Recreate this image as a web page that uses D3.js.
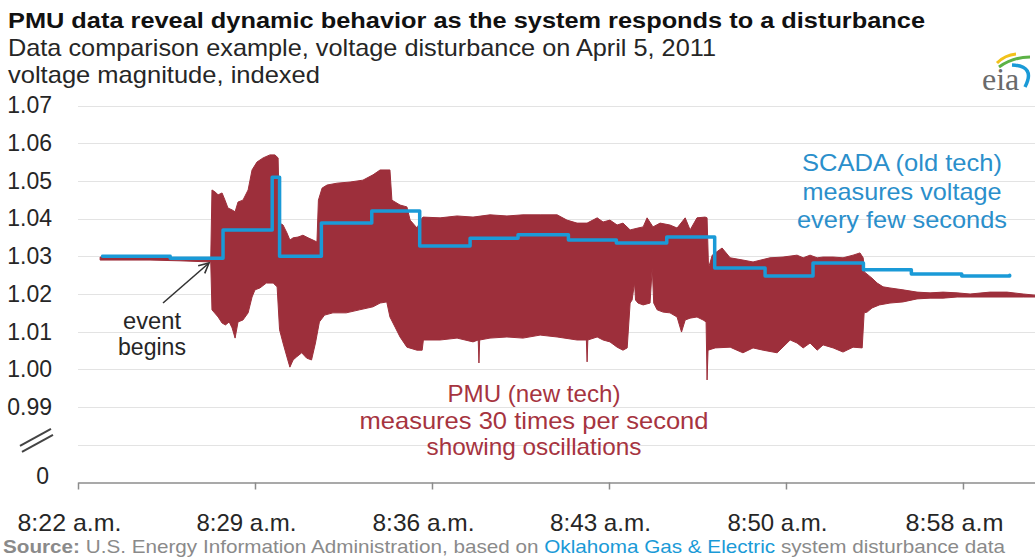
<!DOCTYPE html>
<html>
<head>
<meta charset="utf-8">
<script src="https://cdn.jsdelivr.net/npm/d3@7"></script>
<style>
  body { margin: 0; background: #fff; }
  svg { display: block; font-family: "Liberation Sans", Arial, sans-serif; }
</style>
</head>
<body>
<svg id="chart" width="1035" height="558"></svg>
<script>
// times are minutes after 8:22 a.m.
const xTickMinutes = [0, 7.2, 14.4, 21.6, 28.8, 36];
const xTickLabels = ["8:22 a.m.", "8:29 a.m.", "8:36 a.m.", "8:43 a.m.", "8:50 a.m.", "8:58 a.m"];
const yTickValues = [0.97, 0.98, 0.99, 1.0, 1.01, 1.02, 1.03, 1.04, 1.05, 1.06, 1.07];
const yTickLabels = ["0", "", "0.99", "1.00", "1.01", "1.02", "1.03", "1.04", "1.05", "1.06", "1.07"];

// SCADA readings, each held until the next one
const scadaTimes = [1.0, 3.75, 5.9, 7.9, 8.2, 9.9, 11.95, 13.9, 15.95, 17.9, 19.95,
  21.9, 23.95, 25.9, 27.95, 29.9, 31.95, 33.9, 35.95, 37.9];
const scadaValues = [1.03, 1.0295, 1.037, 1.051, 1.03, 1.0388, 1.042, 1.0327, 1.0348, 1.0357, 1.0343,
  1.0335, 1.0351, 1.0269, 1.0248, 1.0282, 1.0264, 1.0253, 1.0248, 1.025];

// PMU (30 samples/s): top and bottom of the oscillation band
const pmuHighTimes = [0.9, 2.93, 4.15, 5.4, 5.45, 5.57, 5.7, 5.86, 5.98, 6.1, 6.27, 6.39, 6.51, 6.71,
  6.92, 7.08, 7.28, 7.53, 7.81, 8.01, 8.14, 8.2, 8.34, 8.5, 8.62, 8.75, 8.95, 9.15, 9.36, 9.56, 9.72,
  9.78, 9.93, 10.13, 10.54, 11.07, 11.59, 12.0, 12.29, 12.61, 12.69, 12.77, 13.1, 13.38, 13.51, 13.79,
  14.0, 14.04, 14.73, 15.42, 16.07, 16.76, 17.45, 18.1, 18.8, 19.49, 19.89, 20.3, 20.71, 21.12, 21.36,
  21.64, 21.93, 22.17, 22.46, 22.78, 22.99, 23.15, 23.39, 23.68, 24.08, 24.37, 24.7, 24.9, 25.18,
  25.51, 25.59, 25.65, 25.8, 26.2, 26.53, 27.05, 27.46, 28.15, 28.68, 29.25, 29.5, 29.78, 30.07,
  30.31, 30.72, 31.12, 31.53, 31.81, 31.94, 32.0, 32.3, 32.51, 32.75, 33.03, 33.56, 34.13, 34.66,
  35.19, 35.76, 36.29, 37.1, 37.79, 38.45, 38.93];
const pmuHigh = [1.0298, 1.0298, 1.0296, 1.0293, 1.0476, 1.0471, 1.0463, 1.0468, 1.0449, 1.0428,
  1.0423, 1.0418, 1.0444, 1.0449, 1.0476, 1.0529, 1.055, 1.0561, 1.0569, 1.0569, 1.0561, 1.0388,
  1.0383, 1.0362, 1.0343, 1.0349, 1.0351, 1.0356, 1.0349, 1.0343, 1.0338, 1.0449, 1.0481, 1.0489,
  1.0494, 1.0497, 1.0502, 1.0516, 1.0529, 1.0529, 1.0529, 1.0449, 1.0436, 1.0431, 1.0396, 1.0375,
  1.0402, 1.0404, 1.0402, 1.0407, 1.0404, 1.041, 1.0407, 1.041, 1.041, 1.041, 1.0396, 1.0388,
  1.0388, 1.0402, 1.0391, 1.0396, 1.0383, 1.0388, 1.037, 1.0375, 1.0378, 1.0402, 1.0378, 1.0388,
  1.0383, 1.0375, 1.0402, 1.037, 1.0402, 1.0404, 1.0402, 1.0269, 1.0303, 1.0322, 1.0296, 1.029,
  1.0285, 1.0296, 1.0298, 1.0303, 1.0296, 1.0303, 1.0296, 1.0298, 1.0298, 1.0296, 1.0303, 1.0309,
  1.0296, 1.0258, 1.0242, 1.0229, 1.0219, 1.0216, 1.0211, 1.0205, 1.0203, 1.0205, 1.0203, 1.02,
  1.0205, 1.0205, 1.02, 1.0197];
const pmuLowTimes = [0.9, 2.93, 4.15, 5.4, 5.45, 5.7, 5.86, 6.0, 6.15, 6.27, 6.39, 6.51, 6.71, 6.92,
  7.08, 7.2, 7.4, 7.66, 7.94, 8.1, 8.2, 8.34, 8.5, 8.62, 8.75, 8.89, 9.1, 9.3, 9.5, 9.66, 9.82, 10.03,
  10.37, 10.91, 11.45, 12.0, 12.29, 12.56, 12.69, 12.9, 13.1, 13.38, 13.79, 14.0, 14.05, 14.73, 15.42,
  16.07, 16.28, 16.31, 16.34, 16.76, 17.45, 18.1, 18.8, 19.49, 20.3, 20.68, 20.71, 20.74, 21.12,
  21.36, 21.64, 21.93, 22.17, 22.34, 22.46, 22.54, 22.64, 22.68, 22.78, 22.99, 23.27, 23.36, 23.42,
  23.56, 23.8, 24.08, 24.37, 24.55, 24.7, 24.9, 25.18, 25.43, 25.55, 25.59, 25.63, 25.92, 26.53,
  26.8, 27.05, 27.46, 27.87, 28.44, 28.97, 29.25, 29.5, 29.78, 30.07, 30.31, 30.72, 31.12, 31.53,
  31.9, 31.98, 32.1, 32.3, 32.6, 33.03, 33.56, 34.13, 34.66, 35.19, 35.76, 36.29, 37.1, 37.79,
  38.45, 38.93];
const pmuLow = [1.029, 1.029, 1.0288, 1.0285, 1.0158, 1.0139, 1.0123, 1.0118, 1.0126, 1.011,
  1.0083, 1.0126, 1.0131, 1.015, 1.0192, 1.0211, 1.0216, 1.0229, 1.0229, 1.0219, 1.0105, 1.007,
  1.0033, 1.0006, 1.0025, 1.0033, 1.0044, 1.003, 1.0025, 1.007, 1.0126, 1.0144, 1.015, 1.015,
  1.0158, 1.0166, 1.0176, 1.0179, 1.0139, 1.0112, 1.0086, 1.0059, 1.0051, 1.0051, 1.0078, 1.0078,
  1.0083, 1.0073, 1.0078, 1.0017, 1.0078, 1.0083, 1.0086, 1.0083, 1.0091, 1.0086, 1.0078, 1.0078,
  1.002, 1.0078, 1.0086, 1.0078, 1.0073, 1.0059, 1.0051, 1.0057, 1.0176, 1.0184, 1.023, 1.0184,
  1.0176, 1.0171, 1.0176, 1.027, 1.0176, 1.0158, 1.0152, 1.015, 1.0139, 1.0099, 1.0131, 1.0136,
  1.0139, 1.0131, 1.0126, 0.9972, 1.0051, 1.0057, 1.0059, 1.0051, 1.0044, 1.0057, 1.0051, 1.0044,
  1.0078, 1.007, 1.0057, 1.007, 1.0051, 1.0065, 1.0057, 1.0046, 1.0059, 1.0057, 1.015, 1.0152,
  1.0163, 1.0171, 1.0176, 1.0179, 1.0187, 1.0189, 1.0189, 1.0192, 1.0192, 1.0192, 1.0192, 1.0192,
  1.0192];

const red = "#9d2f3b";
const blue = "#1a9ad7";
const ink = "#262626";

const svg = d3.select("#chart");

const x = d3.scaleLinear().domain([0, 38.93]).range([78, 1035]);
const y = d3.scaleLinear().domain([0.97, 1.07]).range([482.5, 105.5]);

// gridlines
svg.append("g")
  .selectAll("line")
  .data(yTickValues.filter((d) => d > 0.97))
  .enter()
  .append("line")
  .attr("x1", x.range()[0])
  .attr("x2", x.range()[1])
  .attr("y1", (d) => Math.round(y(d)) + 0.5)
  .attr("y2", (d) => Math.round(y(d)) + 0.5)
  .attr("stroke", "#e3e3e3");

// y axis labels
const yAxis = svg.append("g")
  .attr("transform", `translate(${x.range()[0]},0)`)
  .call(d3.axisLeft(y).tickValues(yTickValues).tickFormat((d, i) => yTickLabels[i]).tickSize(0).tickPadding(26));
yAxis.select(".domain").remove();
yAxis.selectAll("text")
  .attr("font-size", "23px")
  .attr("font-family", "Liberation Sans, Arial, sans-serif")
  .attr("fill", ink)
  .filter((d) => d === 0.97)
  .attr("y", -6)
  .attr("x", -29);

// axis break mark on the 0.98 row
const yb = y(0.98);
svg.append("g")
  .attr("stroke", "#444")
  .attr("stroke-width", 2)
  .selectAll("line")
  .data([0, 6])
  .enter()
  .append("line")
  .attr("x1", (d) => 20 + d / 3)
  .attr("y1", (d) => yb + 1 + d)
  .attr("x2", (d) => 51 + d / 3)
  .attr("y2", (d) => yb - 16 + d);

// x axis
const xLabelWidths = [104, 100, 102, 101, 100, 98];
const xAxis = svg.append("g")
  .attr("transform", `translate(0,${y(0.97)})`)
  .call(d3.axisBottom(x).tickValues(xTickMinutes).tickFormat((d, i) => xTickLabels[i]).tickSize(7).tickSizeOuter(0).tickPadding(24));
xAxis.select(".domain").attr("stroke", "#8c8c8c").attr("stroke-width", 1.5);
xAxis.selectAll(".tick line").attr("stroke", "#8c8c8c").attr("stroke-width", 1.5);
xAxis.selectAll("text")
  .attr("font-size", "24px")
  .attr("font-family", "Liberation Sans, Arial, sans-serif")
  .attr("fill", ink)
  .attr("textLength", (d, i) => xLabelWidths[i])
  .attr("lengthAdjust", "spacingAndGlyphs")
  .attr("dx", -9);

// PMU band
const bandPoints = pmuHighTimes.map((t, i) => [t, pmuHigh[i]])
  .concat(pmuLowTimes.map((t, i) => [t, pmuLow[i]]).reverse());
const line = d3.line().x((d) => x(d[0])).y((d) => y(d[1]));
svg.append("path")
  .attr("d", line(bandPoints) + "Z")
  .attr("fill", red)
  .attr("stroke", red)
  .attr("stroke-width", 1)
  .attr("stroke-linejoin", "round");

// SCADA step line
const scadaLine = d3.line().x((d) => x(d[0])).y((d) => y(d[1])).curve(d3.curveStepAfter);
svg.append("path")
  .attr("d", scadaLine(scadaTimes.map((t, i) => [t, scadaValues[i]])))
  .attr("fill", "none")
  .attr("stroke", blue)
  .attr("stroke-width", 3.5)
  .attr("stroke-linejoin", "round")
  .attr("stroke-linecap", "round");

// annotations
function textBlock(lines, widths, cx, y0, step, size, color) {
  svg.append("g")
    .selectAll("text")
    .data(lines)
    .enter()
    .append("text")
    .attr("x", cx)
    .attr("y", (d, i) => y0 + i * step)
    .attr("text-anchor", "middle")
    .attr("font-size", size)
    .attr("fill", color)
    .attr("textLength", (d, i) => widths[i])
    .attr("lengthAdjust", "spacingAndGlyphs")
    .text((d) => d);
}
textBlock(["SCADA (old tech)", "measures voltage", "every few seconds"], [200, 199, 210],
  902, 171, 28.5, "24px", "#2b8fcb");
textBlock(["PMU (new tech)", "measures 30 times per second", "showing oscillations"], [173, 349, 215],
  534, 402, 26.5, "24px", "#a6343f");
textBlock(["event", "begins"], [58, 68], 152, 329, 26, "23px", ink);

svg.append("defs").append("marker")
  .attr("id", "arrow")
  .attr("viewBox", "0 0 12 12")
  .attr("refX", 11)
  .attr("refY", 6)
  .attr("markerWidth", 12)
  .attr("markerHeight", 12)
  .attr("markerUnits", "userSpaceOnUse")
  .attr("orient", "auto")
  .append("path")
  .attr("d", "M1,1 L11,6 L1,11")
  .attr("fill", "none")
  .attr("stroke", "#333")
  .attr("stroke-width", 1.6);
svg.append("line")
  .attr("x1", 163).attr("y1", 303)
  .attr("x2", 209).attr("y2", 263)
  .attr("stroke", "#333")
  .attr("stroke-width", 1.6)
  .attr("marker-end", "url(#arrow)");

// titles
svg.append("text")
  .attr("x", 8).attr("y", 28)
  .attr("font-size", "22px").attr("font-weight", "bold").attr("fill", "#111")
  .attr("textLength", 917).attr("lengthAdjust", "spacingAndGlyphs")
  .text("PMU data reveal dynamic behavior as the system responds to a disturbance");
svg.append("text")
  .attr("x", 8).attr("y", 56)
  .attr("font-size", "24px").attr("fill", ink)
  .attr("textLength", 708).attr("lengthAdjust", "spacingAndGlyphs")
  .text("Data comparison example, voltage disturbance on April 5, 2011");
svg.append("text")
  .attr("x", 8).attr("y", 83)
  .attr("font-size", "24px").attr("fill", ink)
  .attr("textLength", 312).attr("lengthAdjust", "spacingAndGlyphs")
  .text("voltage magnitude, indexed");

// source line
const src = svg.append("text")
  .attr("x", 3).attr("y", 553)
  .attr("font-size", "19px").attr("fill", "#8a8a8a")
  .attr("textLength", 1002).attr("lengthAdjust", "spacingAndGlyphs");
src.append("tspan").attr("font-weight", "bold").text("Source:");
src.append("tspan").text(" U.S. Energy Information Administration, based on ");
src.append("tspan").attr("fill", blue).text("Oklahoma Gas & Electric");
src.append("tspan").text(" system disturbance data");

// eia logo
const logo = svg.append("g");
logo.append("text")
  .attr("x", 982).attr("y", 90)
  .attr("font-family", "Liberation Serif, DejaVu Serif, serif")
  .attr("font-size", "32px").attr("fill", "#6a6a6a")
  .text("eia");
logo.append("path").attr("d", "M997,63 Q1005,55 1016,54").attr("fill", "none").attr("stroke", "#f2c21b").attr("stroke-width", 3);
logo.append("path").attr("d", "M999,67 Q1013,57 1030,57").attr("fill", "none").attr("stroke", "#5cb246").attr("stroke-width", 3);
logo.append("path").attr("d", "M1012,65 Q1036,66 1025,87").attr("fill", "none").attr("stroke", blue).attr("stroke-width", 3.5);
</script>
</body>
</html>
